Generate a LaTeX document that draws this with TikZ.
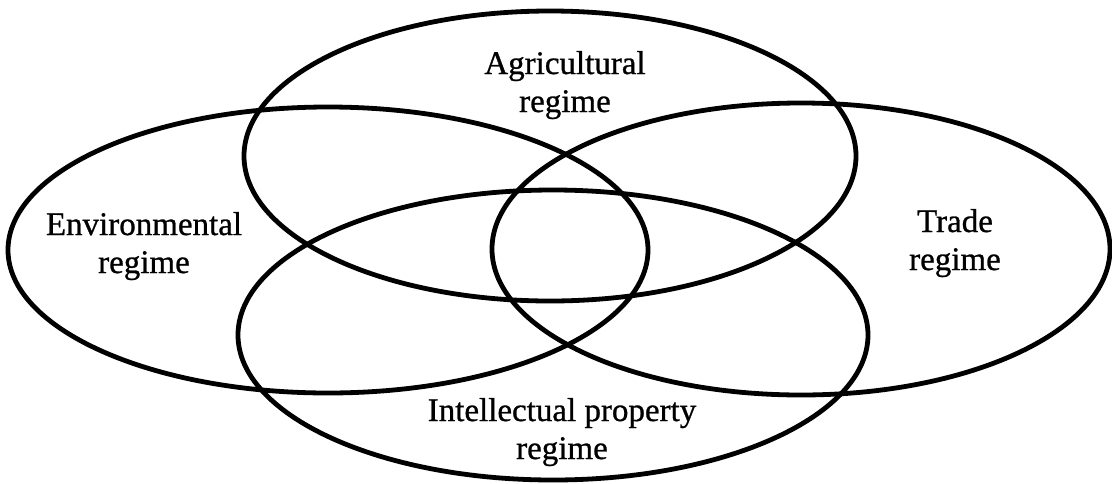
\documentclass[tikz,border=0pt]{standalone}
\usepackage{fontspec}
\setmainfont{Liberation Serif}[FakeBold=0.8]
\begin{document}
\begin{tikzpicture}[x=1pt,y=-1pt,
  regime/.style={draw=black,line width=4.8pt},
  lbl/.style={align=center,anchor=base,font=\fontsize{33}{38}\selectfont,inner sep=0pt}]
\useasboundingbox (0,0) rectangle (1112,483);
\draw[regime] (550,156) ellipse [x radius=306,y radius=145];
\draw[regime] (328,250) ellipse [x radius=320,y radius=143];
\draw[regime] (801,249) ellipse [x radius=309,y radius=146];
\draw[regime] (553,335) ellipse [x radius=315,y radius=145];
\node[lbl] (agr) at (565,112) {Agricultural\\regime};
\node[lbl] (env) at (144,273) {Environmental\\regime};
\node[lbl] (trd) at (955,270) {Trade\\regime};
\node[lbl] (ip) at (562,459) {Intellectual property\\regime};
\end{tikzpicture}
\end{document}
